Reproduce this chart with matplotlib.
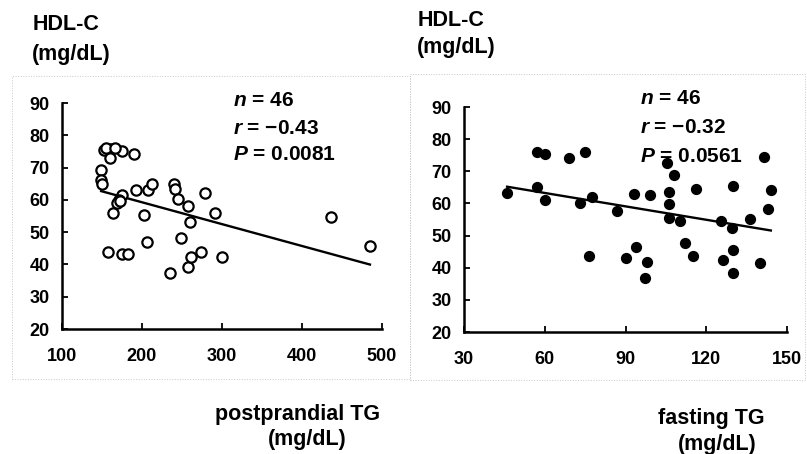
import numpy as np
import matplotlib
matplotlib.use('Agg')
import matplotlib.pyplot as plt
from matplotlib.patches import Rectangle

# postprandial TG vs HDL-C (open circles)
pp_tg = [152, 161, 160, 175, 190, 149, 149, 150, 175, 171, 169, 164, 192, 207,
         212, 240, 241, 245, 258, 279, 291, 260, 202, 206, 249, 157, 175, 182,
         235, 258, 261, 274, 300, 436, 485, 155, 166, 172]
pp_hdl = [75.6, 75.9, 73, 75.2, 74.2, 69.2, 66.1, 65, 61.5, 60, 59, 56, 63.2, 63,
          65, 65, 63.5, 60.2, 58, 62, 55.8, 53, 55.3, 47, 48.3, 44, 43.2, 43.2,
          37.2, 39.3, 42.2, 44, 42.2, 54.8, 45.7, 76, 76, 59.5]
pp_fit = (-0.0677, 72.8)   # slope, intercept

# fasting TG vs HDL-C (filled dots)
f_tg = [46, 57, 60, 57, 60, 69, 75, 73, 77.5, 76.6, 87, 90, 93, 94, 98, 97.3, 99,
        105.4, 108.2, 106.3, 106.3, 106.3, 110.3, 112.2, 115.2, 116.1, 125.5,
        126.2, 129.9, 129.5, 129.9, 129.9, 136.1, 140, 141.3, 142.9, 144]
f_hdl = [63.3, 76.1, 75.3, 65, 61.1, 74, 75.9, 60, 61.9, 43.7, 57.7, 42.9, 62.9,
         46.5, 41.9, 36.7, 62.6, 72.7, 68.8, 63.7, 59.7, 55.4, 54.6, 47.8, 43.6,
         64.5, 54.6, 42.4, 65.4, 52.3, 45.5, 38.5, 55.2, 41.4, 74.4, 58.2, 64.2]
f_fit = (-0.139, 71.6)

plt.rcParams['font.family'] = ['Liberation Sans', 'DejaVu Sans']
plt.rcParams['font.weight'] = 'bold'
plt.rcParams['mathtext.fontset'] = 'custom'
plt.rcParams['mathtext.it'] = 'Liberation Sans:italic:bold'
plt.rcParams['mathtext.rm'] = 'Liberation Sans:bold'

fig = plt.figure(figsize=(8.07, 4.54), dpi=100)

# faint dotted panel frames
for x0, y0, w, h in [(0.015, 0.165, 0.493, 0.668), (0.508, 0.162, 0.49, 0.676)]:
    fig.patches.append(Rectangle((x0, y0), w, h, transform=fig.transFigure,
                                 fill=False, ec='#c8c8c8', lw=0.7, ls=':'))

ax1 = fig.add_axes([0.0768, 0.2753, 0.3965, 0.4978])
ax2 = fig.add_axes([0.575, 0.2687, 0.4002, 0.4956])


def style(ax, xlim, xticks):
    ax.set_xlim(*xlim)
    ax.set_ylim(20, 90)
    ax.set_xticks(xticks)
    ax.set_yticks(range(20, 100, 10))
    for s in ['top', 'right']:
        ax.spines[s].set_visible(False)
    for s in ['left', 'bottom']:
        ax.spines[s].set_linewidth(1.8)
    ax.tick_params(direction='in', length=4, width=1.3, labelsize=13)
    ax.tick_params(axis='x', pad=14)
    ax.tick_params(axis='y', pad=9)
    for lab in ax.get_xticklabels() + ax.get_yticklabels():
        lab.set_fontweight('bold')


style(ax1, (100, 500), [100, 200, 300, 400, 500])
ax1.scatter(pp_tg, pp_hdl, s=55, facecolors='white', edgecolors='black',
            linewidths=1.6, zorder=3, clip_on=False)
xl = np.array([min(pp_tg), max(pp_tg)])
ax1.plot(xl, pp_fit[0] * xl + pp_fit[1], color='black', lw=1.7, zorder=2)

style(ax2, (30, 150), [30, 60, 90, 120, 150])
ax2.scatter(f_tg, f_hdl, s=50, color='black', zorder=3, clip_on=False)
xl = np.array([min(f_tg), max(f_tg)])
ax2.plot(xl, f_fit[0] * xl + f_fit[1], color='black', lw=1.7, zorder=2)

# stats text
for ax, x, ys, r, p in [(ax1, 0.534, (1.009, 0.889, 0.77), '−0.43', '0.0081'),
                        (ax2, 0.545, (1.036, 0.911, 0.782), '−0.32', '0.0561')]:
    ax.text(x, ys[0], r'$\mathit{n}$ = 46', transform=ax.transAxes, fontsize=15,
            fontweight='bold', va='center')
    ax.text(x, ys[1], r'$\mathit{r}$ = ' + r, transform=ax.transAxes, fontsize=15,
            fontweight='bold', va='center')
    ax.text(x, ys[2], r'$\mathit{P}$ = ' + p, transform=ax.transAxes, fontsize=15,
            fontweight='bold', va='center')

# axis captions
cap = dict(fontsize=15.5, fontweight='bold', va='center')
fig.text(0.04, 0.945, 'HDL-C', **cap)
fig.text(0.04, 0.881, '(mg/dL)', **cap)
fig.text(0.517, 0.954, 'HDL-C', **cap)
fig.text(0.517, 0.896, '(mg/dL)', **cap)

fig.text(0.369, 0.088, 'postprandial TG', ha='center', **cap)
fig.text(0.381, 0.031, '(mg/dL)', ha='center', **cap)
fig.text(0.881, 0.079, 'fasting TG', ha='center', **cap)
fig.text(0.889, 0.02, '(mg/dL)', ha='center', **cap)

fig.savefig('out.png', dpi=100)
